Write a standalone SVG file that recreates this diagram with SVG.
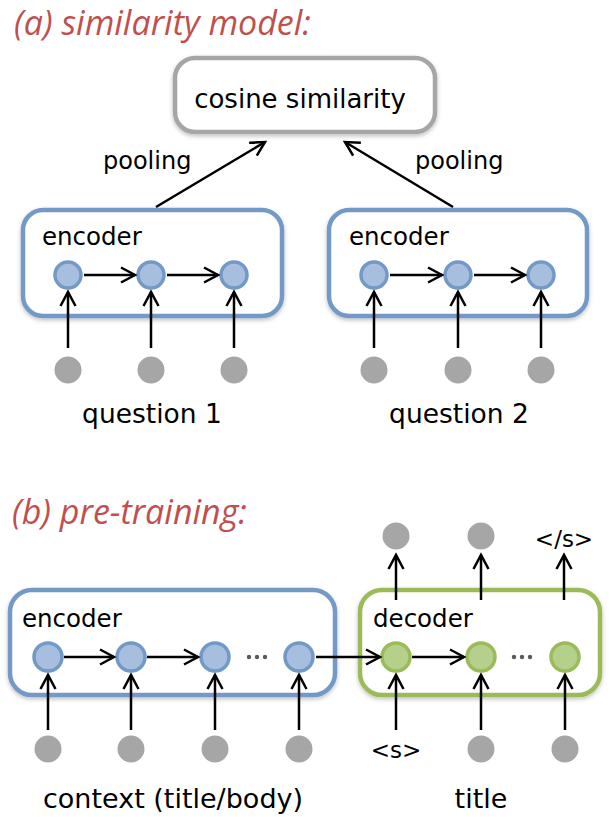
<svg xmlns="http://www.w3.org/2000/svg" width="613" height="817" viewBox="0 0 613 817">
<style>
.t{font-family:"DejaVu Sans","Liberation Sans",sans-serif;fill:#000}
.h{font-family:"Open Sans","Liberation Sans",sans-serif;font-style:italic;fill:#c0504d;font-size:34px}
.bb{fill:#fff;stroke:#7399c6;stroke-width:4.5}
.gb{fill:#fff;stroke:#9bbb59;stroke-width:4.5}
.cb{fill:#fff;stroke:#a6a6a6;stroke-width:4.5}
.bn{fill:#a7bfde;stroke:#7399c6;stroke-width:3.5}
.gn{fill:#b5d08b;stroke:#9bbb59;stroke-width:3.5}
.in{fill:#a6a6a6}
.dot{fill:#595959}
.a{stroke:#000;stroke-width:2.5;fill:none;marker-end:url(#ah)}
</style>
<defs>
<marker id="ah" markerUnits="userSpaceOnUse" markerWidth="20" markerHeight="20" viewBox="0 0 20 20" refX="17" refY="10" orient="auto">
<path d="M3,2.5 L17,10 L3,17.5" fill="none" stroke="#000" stroke-width="2.5"/>
</marker>
<filter id="sh" x="-10%" y="-10%" width="120%" height="130%">
<feDropShadow dx="0" dy="2" stdDeviation="2" flood-color="#000" flood-opacity="0.25"/>
</filter>
</defs>

<text class="h" x="14" y="35">(a) similarity model:</text>
<text class="h" x="12" y="524">(b) pre-training:</text>

<g id="cosine">
<rect class="cb" x="175" y="58" width="260" height="74" rx="20" filter="url(#sh)"/>
<text class="t" x="300" y="108" font-size="26" text-anchor="middle">cosine similarity</text>
</g>

<g id="enc1">
<rect class="bb" x="23" y="210" width="259" height="106" rx="20" filter="url(#sh)"/>
<text class="t" x="42" y="245" font-size="24.5">encoder</text>
<circle class="bn" cx="68" cy="275" r="13"/>
<circle class="bn" cx="151" cy="275" r="13"/>
<circle class="bn" cx="234" cy="275" r="13"/>
</g>
<g id="enc2">
<rect class="bb" x="329" y="210" width="258" height="106" rx="20" filter="url(#sh)"/>
<text class="t" x="349" y="245" font-size="24.5">encoder</text>
<circle class="bn" cx="374" cy="275" r="13"/>
<circle class="bn" cx="458" cy="275" r="13"/>
<circle class="bn" cx="541" cy="275" r="13"/>
</g>
<g id="inputs-a">
<circle class="in" cx="68" cy="370" r="13.5"/>
<circle class="in" cx="151" cy="370" r="13.5"/>
<circle class="in" cx="234" cy="370" r="13.5"/>
<circle class="in" cx="374" cy="370" r="13.5"/>
<circle class="in" cx="458" cy="370" r="13.5"/>
<circle class="in" cx="541" cy="370" r="13.5"/>
<text class="t" x="152" y="423" font-size="26.5" text-anchor="middle">question 1</text>
<text class="t" x="459" y="423" font-size="26.5" text-anchor="middle">question 2</text>
</g>
<g id="pool-labels">
<text class="t" x="103" y="169" font-size="24">pooling</text>
<text class="t" x="415" y="169" font-size="24">pooling</text>
</g>

<g id="enc-b">
<rect class="bb" x="10" y="590" width="325" height="105" rx="22" filter="url(#sh)"/>
<text class="t" x="22" y="627" font-size="24.5">encoder</text>
<circle class="bn" cx="48" cy="657" r="14"/>
<circle class="bn" cx="131" cy="657" r="14"/>
<circle class="bn" cx="215" cy="657" r="14"/>
<circle class="bn" cx="299" cy="657" r="14"/>
<circle class="dot" cx="249" cy="657" r="2.2"/>
<circle class="dot" cx="257" cy="657" r="2.2"/>
<circle class="dot" cx="265" cy="657" r="2.2"/>
</g>
<g id="dec-b">
<rect class="gb" x="360" y="590" width="240" height="105" rx="22" filter="url(#sh)"/>
<text class="t" x="373" y="627" font-size="24.5">decoder</text>
<circle class="gn" cx="396" cy="657" r="14"/>
<circle class="gn" cx="481" cy="657" r="14"/>
<circle class="gn" cx="565" cy="657" r="14"/>
<circle class="dot" cx="514" cy="657" r="2.2"/>
<circle class="dot" cx="522" cy="657" r="2.2"/>
<circle class="dot" cx="530" cy="657" r="2.2"/>
</g>
<g id="io-b">
<circle class="in" cx="48" cy="749" r="13.5"/>
<circle class="in" cx="131" cy="749" r="13.5"/>
<circle class="in" cx="215" cy="749" r="13.5"/>
<circle class="in" cx="299" cy="749" r="13.5"/>
<text class="t" x="396" y="758" font-size="23" text-anchor="middle">&lt;s&gt;</text>
<circle class="in" cx="481" cy="749" r="13.5"/>
<circle class="in" cx="565" cy="749" r="13.5"/>
<circle class="in" cx="396" cy="536" r="13.5"/>
<circle class="in" cx="481" cy="536" r="13.5"/>
<text class="t" x="564" y="547" font-size="23" text-anchor="middle">&lt;/s&gt;</text>
<text class="t" x="173" y="808" font-size="27" text-anchor="middle">context (title/body)</text>
<text class="t" x="481" y="808" font-size="27" text-anchor="middle">title</text>
</g>

<g id="connectors">
<line class="a" x1="156" y1="207" x2="265" y2="142"/>
<line class="a" x1="453" y1="207" x2="345" y2="142"/>
<line class="a" x1="84" y1="275" x2="135" y2="275"/>
<line class="a" x1="167" y1="275" x2="218" y2="275"/>
<line class="a" x1="390" y1="275" x2="442" y2="275"/>
<line class="a" x1="474" y1="275" x2="525" y2="275"/>
<line class="a" x1="68" y1="348" x2="68" y2="292"/>
<line class="a" x1="151" y1="348" x2="151" y2="292"/>
<line class="a" x1="234" y1="348" x2="234" y2="292"/>
<line class="a" x1="374" y1="348" x2="374" y2="292"/>
<line class="a" x1="458" y1="348" x2="458" y2="292"/>
<line class="a" x1="541" y1="348" x2="541" y2="292"/>
<line class="a" x1="64" y1="657" x2="114" y2="657"/>
<line class="a" x1="147" y1="657" x2="198" y2="657"/>
<line class="a" x1="316" y1="657" x2="380" y2="657"/>
<line class="a" x1="412" y1="657" x2="464" y2="657"/>
<line class="a" x1="48" y1="730" x2="48" y2="675"/>
<line class="a" x1="131" y1="730" x2="131" y2="675"/>
<line class="a" x1="215" y1="730" x2="215" y2="675"/>
<line class="a" x1="299" y1="730" x2="299" y2="675"/>
<line class="a" x1="396" y1="730" x2="396" y2="675"/>
<line class="a" x1="481" y1="730" x2="481" y2="675"/>
<line class="a" x1="565" y1="730" x2="565" y2="675"/>
<line class="a" x1="396" y1="600" x2="396" y2="555"/>
<line class="a" x1="481" y1="600" x2="481" y2="555"/>
<line class="a" x1="564" y1="600" x2="564" y2="555"/>
</g>
</svg>
